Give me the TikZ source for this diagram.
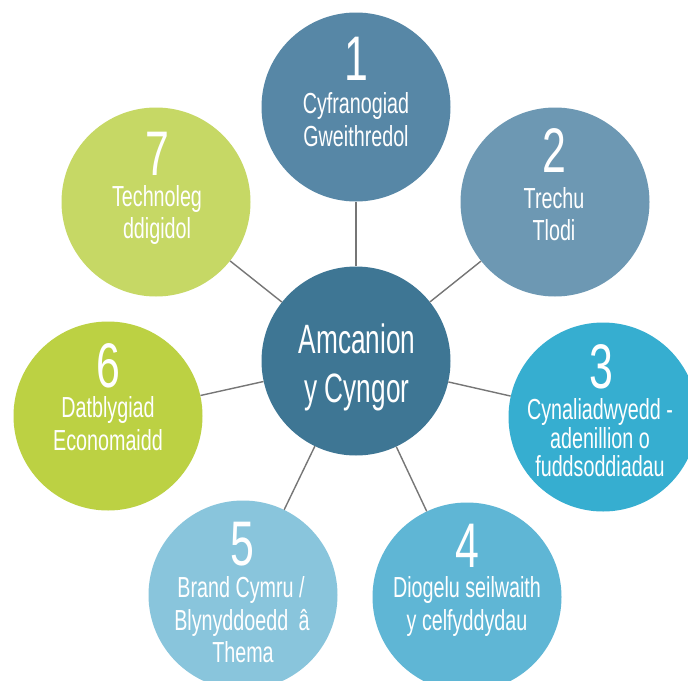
\documentclass[tikz,border=0pt]{standalone}
\usepackage{fontspec}
\setmainfont[FakeStretch=0.68]{Liberation Sans}
\newfontfamily\ctrfont[FakeStretch=0.64]{Liberation Sans}
\definecolor{cC}{HTML}{3E7694}
\definecolor{c1}{HTML}{5787A6}
\definecolor{c2}{HTML}{6D98B3}
\definecolor{c3}{HTML}{36AED0}
\definecolor{c4}{HTML}{5FB6D5}
\definecolor{c5}{HTML}{89C5DC}
\definecolor{c6}{HTML}{BCD143}
\definecolor{c7}{HTML}{C6D865}
\definecolor{linegray}{HTML}{767676}
\begin{document}
\begin{tikzpicture}[x=1pt,y=-1pt,
  bub/.style={circle, minimum size=189pt, inner sep=0pt, draw=none},
  conn/.style={draw=linegray, line width=1.4pt},
  dig/.style={text=white, anchor=base, inner sep=0pt, text depth=0pt, font=\fontsize{63}{63}\selectfont},
  lab/.style={text=white, anchor=base, inner sep=0pt, text height=21pt, font=\fontsize{29}{29}\selectfont},
  ctr/.style={text=white, anchor=base, inner sep=0pt, font=\ctrfont\fontsize{41}{41}\selectfont}]
\useasboundingbox (0,0) rectangle (688,680);
\clip (0,0) rectangle (688,680);
\fill[white] (0,0) rectangle (688,680);
% circles
\node[bub, fill=cC] (c) at (356,361) {};
\node[bub, fill=c1] (n1) at (356,107) {};
\node[bub, fill=c2] (n2) at (555,202) {};
\node[bub, fill=c3] (n3) at (603,417) {};
\node[bub, fill=c4] (n4) at (467,597) {};
\node[bub, fill=c5] (n5) at (243,595) {};
\node[bub, fill=c6] (n6) at (108,416) {};
\node[bub, fill=c7] (n7) at (156,202) {};
% connectors
\draw[conn] (c) -- (n1);
\draw[conn] (c) -- (n2);
\draw[conn] (c) -- (n3);
\draw[conn] (c) -- (n4);
\draw[conn] (c) -- (n5);
\draw[conn] (c) -- (n6);
\draw[conn] (c) -- (n7);
% centre text
\node[ctr] (ca) at (357,353) {Amcanion};
\node[ctr] (cb) at (357,402) {y Cyngor};
% 1
\node[dig] (d1) at (356,80) {1};
\node[lab] (t1a) at (356,113) {Cyfranogiad};
\node[lab] (t1b) at (356,146) {Gweithredol};
% 2
\node[dig] (d2) at (554,172) {2};
\node[lab] (t2a) at (554,208) {Trechu};
\node[lab] (t2b) at (554,240) {Tlodi};
% 3
\node[dig] (d3) at (601,388) {3};
\node[lab] (t3a) at (600,419) {Cynaliadwyedd -};
\node[lab] (t3b) at (600,448) {adenillion o};
\node[lab] (t3c) at (600,476) {fuddsoddiadau};
% 4
\node[dig] (d4) at (467,567) {4};
\node[lab] (t4a) at (467,597) {Diogelu seilwaith};
\node[lab] (t4b) at (467,630) {y celfyddydau};
% 5
\node[dig] (d5) at (242,565) {5};
\node[lab] (t5a) at (241,597) {Brand Cymru /};
\node[lab] (t5b) at (242,630) {Blynyddoedd\hspace{5pt} â};
\node[lab] (t5c) at (243,662) {Thema};
% 6
\node[dig] (d6) at (108,387) {6};
\node[lab] (t6a) at (108,417) {Datblygiad};
\node[lab] (t6b) at (108,450) {Economaidd};
% 7
\node[dig] (d7) at (157,175) {7};
\node[lab] (t7a) at (157,206) {Technoleg};
\node[lab] (t7b) at (157,238) {ddigidol};
\end{tikzpicture}
\end{document}
